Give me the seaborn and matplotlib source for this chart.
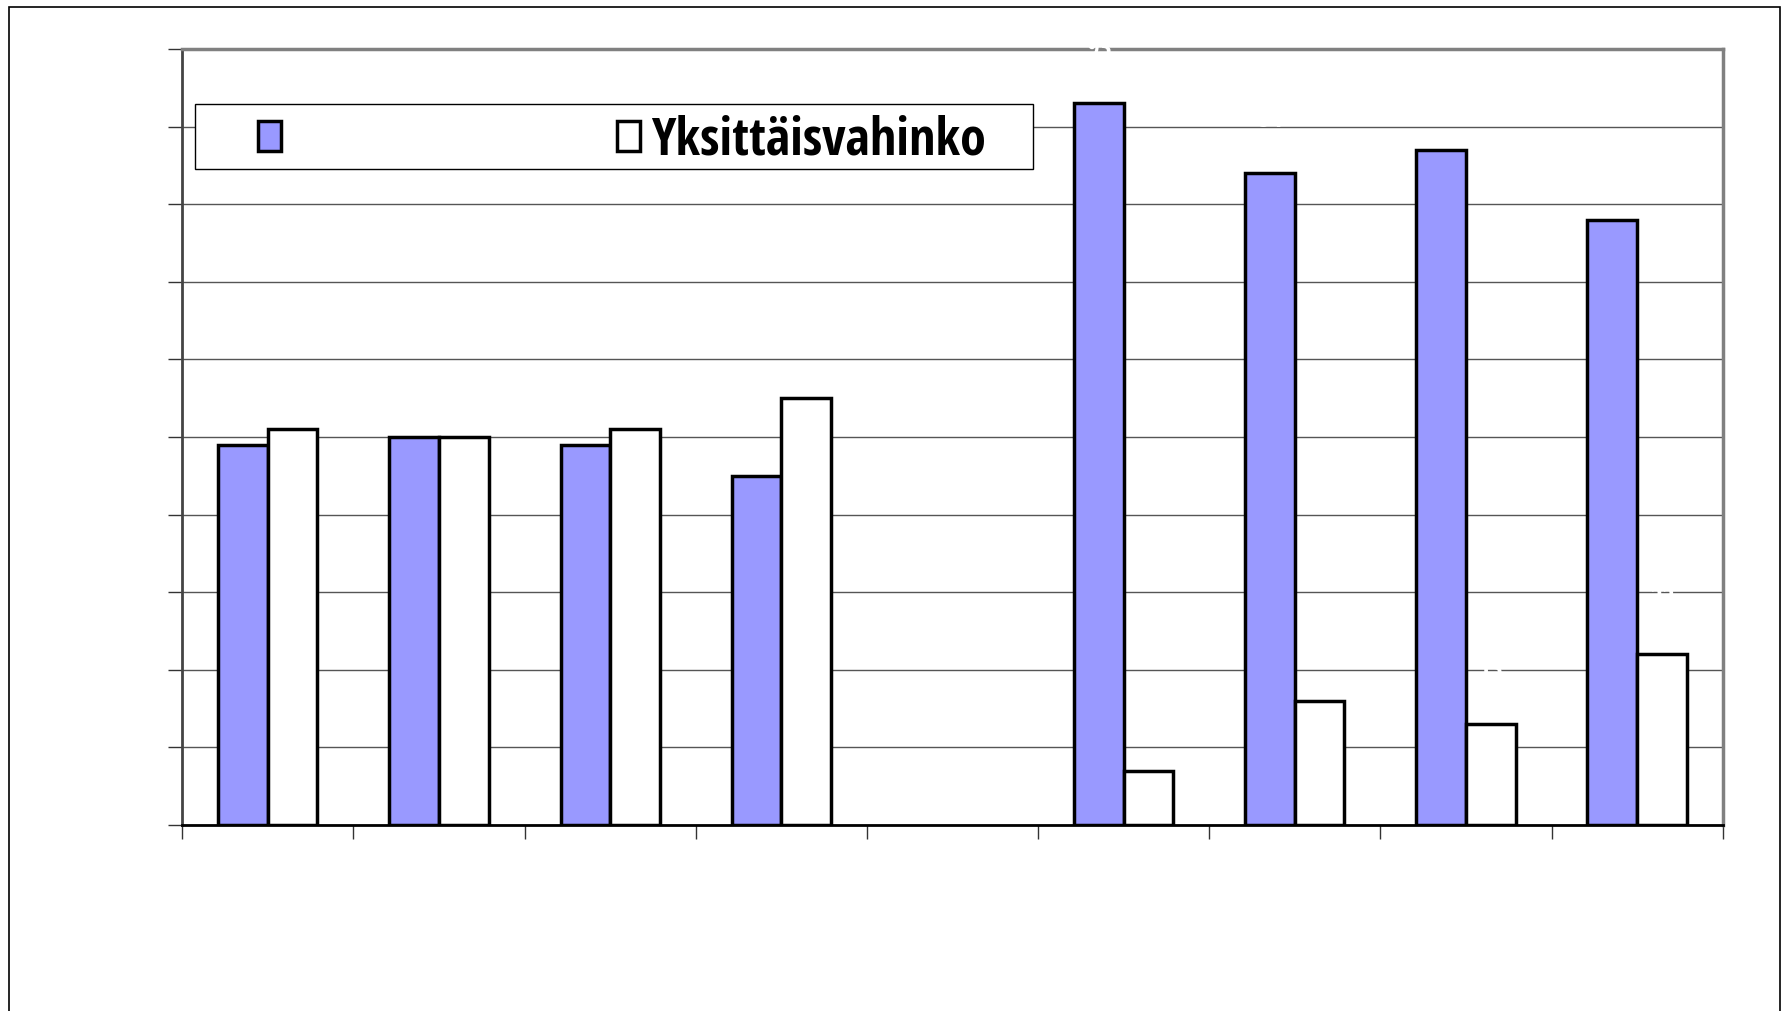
import numpy as np
import pandas as pd
import seaborn as sns
import matplotlib.pyplot as plt
from matplotlib import font_manager as fm
from matplotlib.patches import Patch, Rectangle

# values (percent, gridlines every 10)
categories = ["1", "2", "3", "4", "5", "6", "7", "8", "9"]
series_names = ["Sarjavahinko", "Yksittäisvahinko"]
series_vals = [49, 50, 49, 45, np.nan, 93, 84, 87, 78]
single_vals = [51, 50, 51, 55, np.nan, 7, 16, 13, 22]

df = pd.DataFrame({
    "cat": categories * 2,
    "series": [series_names[0]] * len(categories) + [series_names[1]] * len(categories),
    "value": series_vals + single_vals,
})

sns.set_theme(style="white")

# narrow bold font for the legend if there is one, else plain Liberation Sans
installed = {f.name for f in fm.fontManager.ttflist}
narrow = [n for n in ["Liberation Sans Narrow", "Arial Narrow", "Nimbus Sans Narrow",
                      "Open Sans Condensed", "Roboto Condensed"] if n in installed]
plt.rcParams['font.family'] = narrow[:1] + ['Liberation Sans', 'DejaVu Sans']
leg_size = 37.5 if narrow else 31

fig = plt.figure(figsize=(17.87, 10.11), dpi=100)
ax = fig.add_axes([0.102, 0.184, 0.862, 0.7675])

# outer chart frame (no bottom edge visible)
fig.patches.append(Rectangle((0.005, -0.1), 0.991, 1.093, transform=fig.transFigure,
                             fill=False, edgecolor='black', lw=1.2))

sns.barplot(data=df, x="cat", y="value", hue="series", order=categories,
            hue_order=series_names, palette=["#9999FF", "#FFFFFF"], saturation=1,
            width=0.58, errorbar=None, edgecolor="black", linewidth=2.5,
            legend=False, ax=ax, zorder=3)

# data labels are white in the original (only visible as gaps in gridlines)
for cont in ax.containers:
    ax.bar_label(cont, fmt="%.0f", color="white", fontsize=20, fontweight="bold",
                 padding=28, zorder=4)

ax.set_ylim(0, 100)
ax.set_xlim(-0.5, len(categories) - 0.5)
ax.set_yticks(np.arange(0, 101, 10))
ax.set_xticks(np.arange(-0.5, len(categories), 1.0))
ax.set_xticklabels([])
ax.set_yticklabels([])
ax.set_xlabel("")
ax.set_ylabel("")
ax.yaxis.grid(True, color="#555555", lw=1)
ax.set_axisbelow(True)
ax.tick_params(axis="both", direction="out", length=10, width=1, color="#333333",
               bottom=True, left=True)

for side in ["top", "right"]:
    ax.spines[side].set_color("#808080")
    ax.spines[side].set_linewidth(2.5)
ax.spines["left"].set_color("#444444")
ax.spines["left"].set_linewidth(2)
ax.spines["bottom"].set_color("black")
ax.spines["bottom"].set_linewidth(2)

# legend box (drawn separately so its size matches the original)
ax.add_patch(Rectangle((0.1091, 0.8331), 0.4690, 0.0643, transform=fig.transFigure,
                       facecolor="white", edgecolor="black", lw=1, zorder=5,
                       clip_on=False))

fs_px = leg_size * 100 / 72
handles = [Patch(facecolor="#9999FF", edgecolor="black", lw=2.5),
           Patch(facecolor="white", edgecolor="black", lw=2.5)]


def make_legend(colspacing):
    lg = ax.legend(handles, series_names, ncol=2, loc="center left",
                   bbox_to_anchor=(257.6 / 1787, 1 - 141 / 1011),
                   bbox_transform=fig.transFigure, frameon=False,
                   borderpad=0, borderaxespad=0,
                   handlelength=23 / fs_px, handleheight=27 / fs_px,
                   handletextpad=11.5 / fs_px, columnspacing=colspacing,
                   prop={"size": leg_size, "weight": "bold"})
    lg.set_zorder(6)
    lg.get_texts()[0].set_color("white")
    lg.get_texts()[1].set_color("black")
    return lg


leg = make_legend(1.0)
fig.canvas.draw()
w1 = leg.get_texts()[0].get_window_extent().width
leg.remove()
leg = make_legend((324.5 - w1) / fs_px)

fig.savefig("out.png", dpi=100)
